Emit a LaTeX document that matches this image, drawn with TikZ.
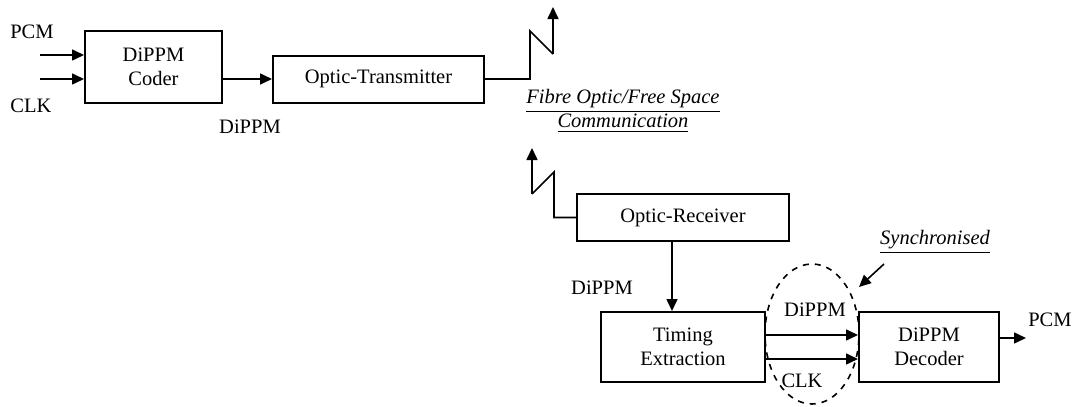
\documentclass[tikz,border=0pt]{standalone}
\usepackage{fontspec}
\setmainfont{Liberation Serif}
\usepackage{tikz}
\usetikzlibrary{shapes.geometric, arrows.meta, positioning, calc}
\tikzstyle{block} = [rectangle,
draw=black,
line width=1pt,
inner sep=0pt,
align=center]
\tikzstyle{arrow} = [line width=0.8pt,-{Triangle[length=6pt,width=5.5pt]}]
\tikzstyle{wire} = [line width=0.8pt]
\tikzstyle{note} = [inner sep=0pt, font=\fontsize{10.25}{12}\selectfont\itshape]

\begin{document}
\begin{tikzpicture}[x=0.5pt, y=-0.5pt, font=\fontsize{10.25}{12}\selectfont]
                \useasboundingbox (0,0) rectangle (1073,407);
                \node (coder) [block, minimum width=68.5pt, minimum height=36pt] at (153.5,67) {DiPPM\\Coder};
                \node (tx) [block, minimum width=105.5pt, minimum height=23.5pt] at (378.5,79) {Optic-Transmitter};
                \node (rx) [block, minimum width=106pt, minimum height=23.5pt] at (683,217.5) {Optic-Receiver};
                \node (timing) [block, minimum width=82pt, minimum height=35pt] at (683,347) {Timing\\Extraction};
                \node (decoder) [block, minimum width=70pt, minimum height=35pt] at (929,347) {DiPPM\\Decoder};

                \node (pcmin) at (32,32) {PCM};
                \node (clkin) at (31,106) {CLK};
                \node (dippmtx) at (250,127) {DiPPM};
                \node (dippmrx) at (602,288) {DiPPM};
                \node (dippmsync) at (815,310) {DiPPM};
                \node (clksync) at (802,381) {CLK};
                \node (pcmout) [anchor=east, inner sep=0pt] at (1072,320) {PCM};
                \node (link) [note, align=center] at (623,111) {\underline{Fibre Optic/Free Space}\\\underline{Communication}};
                \node (sync) [note] at (935,242) {\underline{Synchronised}};

                % inputs
                \coordinate (pcmstart) at (40,55);
                \coordinate (clkstart) at (40,79);
                \draw [arrow] (pcmstart) -- (coder.west |- pcmstart);
                \draw [arrow] (clkstart) -- (coder.west |- clkstart);
                \draw [arrow] (coder.east |- tx.west) -- (tx.west);

                % transmitting antenna
                \coordinate (txa) at (530,79);
                \coordinate (txb) at (530,31);
                \coordinate (txc) at (553,54);
                \coordinate (txtip) at (553,7);
                \draw [wire] (tx.east) -- (txa) -- (txb) -- (txc);
                \draw [arrow] (txc) -- (txtip);

                % receiving antenna
                \coordinate (rxa) at (554,217.5);
                \coordinate (rxb) at (554,172);
                \coordinate (rxc) at (532,194);
                \coordinate (rxtip) at (532,148);
                \draw [wire] (rx.west) -- (rxa) -- (rxb) -- (rxc);
                \draw [arrow] (rxc) -- (rxtip);

                \draw [arrow] ([xshift=-5.5pt]rx.south) -- ([xshift=-5.5pt]timing.north);
                \draw [arrow] ([yshift=6pt]timing.east) -- ([yshift=6pt]decoder.west);
                \draw [arrow] ([yshift=-6pt]timing.east) -- ([yshift=-6pt]decoder.west);
                \draw [arrow] ([yshift=4.5pt]decoder.east) -- ++(26,0);

                % synchronised region
                \node (syncring) [ellipse, draw, dashed, line width=0.8pt, minimum width=47pt, minimum height=70pt, inner sep=0pt] at (812,334) {};
                \coordinate (syncstart) at (884,264);
                \coordinate (synctip) at (859,287);
                \draw [arrow] (syncstart) -- (synctip);
            \end{tikzpicture}
\end{document}
